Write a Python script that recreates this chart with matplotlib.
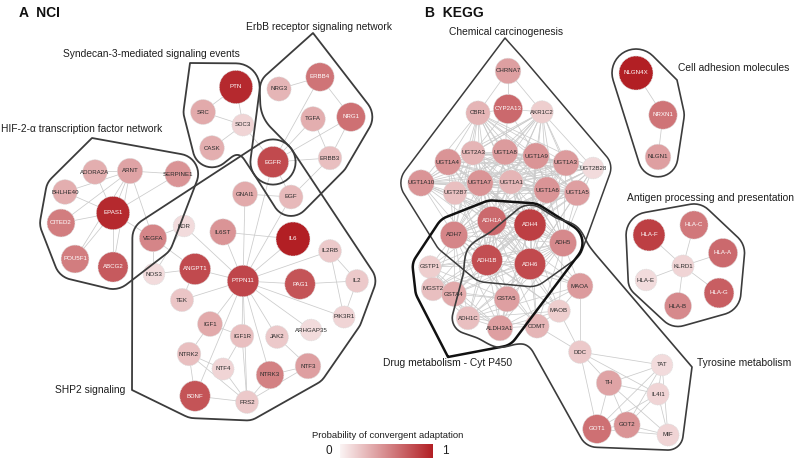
import numpy as np
import matplotlib
matplotlib.use("Agg")
import matplotlib.pyplot as plt
from matplotlib.patches import Circle
from matplotlib.colors import LinearSegmentedColormap

plt.rcParams['font.family'] = ['Liberation Sans', 'DejaVu Sans']

# ---------------- data ----------------
genes = ["PTN", "SRC", "SDC3", "CASK", "NRG3", "ERBB4", "TGFA", "NRG1", "ERBB3", "EGFR", "EGF", "GNAI1",
         "ADORA2A", "ARNT", "SERPINE1", "BHLHE40", "EPAS1", "CITED2", "POU5F1", "ABCG2", "VEGFA",
         "KDR", "NOS3", "IL6ST", "IL6", "IL2RB", "ANGPT1", "PTPN11", "PAG1", "IL2", "TEK", "PIK3R1",
         "IGF1", "IGF1R", "JAK2", "ARHGAP35", "NTRK2", "NTF4", "NTRK3", "NTF3", "BDNF", "FRS2",
         "CHRNA7", "CBR1", "CYP2A13", "AKR1C2", "UGT1A4", "UGT2A3", "UGT1A8", "UGT1A9", "UGT1A3",
         "UGT2B28", "UGT1A10", "UGT2B7", "UGT1A7", "UGT1A1", "UGT1A6", "UGT1A5", "ADH1A", "ADH4",
         "ADH7", "ADH5", "ADH1B", "ADH6", "GSTP1", "MGST2", "GSTA4", "MAOA", "GSTA5", "MAOB", "ADH1C",
         "ALDH3A1", "COMT", "DDC", "TAT", "TH", "IL4I1", "GOT1", "GOT2", "MIF",
         "NLGN4X", "NRXN1", "NLGN1", "HLA-F", "HLA-C", "HLA-A", "KLRD1", "HLA-E", "HLA-G", "HLA-B"]

# probability of convergent adaptation (colour of each node)
prob = [0.95, 0.35, 0.15, 0.33, 0.30, 0.60, 0.33, 0.62, 0.25, 0.80, 0.28, 0.35,
        0.33, 0.38, 0.45, 0.33, 0.95, 0.56, 0.56, 0.72, 0.52,
        0.12, 0.12, 0.45, 1.00, 0.20, 0.80, 0.82, 0.75, 0.20, 0.22, 0.15,
        0.35, 0.25, 0.20, 0.12, 0.25, 0.15, 0.54, 0.40, 0.75, 0.20,
        0.40, 0.30, 0.65, 0.18, 0.45, 0.30, 0.42, 0.45, 0.42,
        0.12, 0.45, 0.25, 0.45, 0.30, 0.45, 0.40, 0.65, 0.85,
        0.52, 0.50, 0.78, 0.80, 0.18, 0.25, 0.35, 0.42, 0.40, 0.18, 0.25,
        0.40, 0.30, 0.20, 0.12, 0.38, 0.15, 0.62, 0.45, 0.15,
        1.00, 0.60, 0.40, 0.85, 0.58, 0.65, 0.15, 0.12, 0.70, 0.50]

# network layout (pixel coordinates of the drawing)
layout_x = [236, 203, 243, 212, 279, 320, 313, 351, 330, 273, 291, 245,
            95, 130, 178, 65, 113, 61, 75, 113, 153,
            184, 154, 223, 293, 330, 195, 243, 300, 357, 182, 344,
            210, 242, 277, 311, 189, 223, 270, 308, 195, 247,
            508, 478, 508, 542, 448, 473, 505, 536, 566,
            593, 421, 455, 480, 511, 547, 577, 492, 530,
            454, 563, 487, 530, 430, 433, 454, 580, 507, 559, 468,
            500, 537, 580, 662, 609, 658, 597, 627, 668,
            636, 663, 658, 649, 694, 723, 683, 646, 719, 678]
layout_y = [87, 112, 125, 148, 89, 77, 119, 117, 158, 162, 197, 194,
            172, 171, 174, 192, 213, 223, 259, 267, 238,
            226, 274, 232, 239, 251, 269, 281, 284, 281, 300, 317,
            324, 336, 337, 330, 354, 369, 375, 366, 396, 402,
            71, 113, 109, 112, 162, 153, 152, 156, 163,
            168, 183, 193, 183, 182, 190, 193, 221, 225,
            235, 243, 260, 264, 267, 289, 294, 286, 299, 311, 318,
            328, 326, 352, 365, 383, 394, 429, 425, 435,
            73, 115, 157, 235, 225, 253, 266, 280, 293, 306]

edges = [("PTN", "SRC"), ("PTN", "SDC3"), ("SRC", "SDC3"), ("SDC3", "CASK"), ("SDC3", "EGFR"),
         ("NRG3", "ERBB4"), ("ERBB4", "NRG1"), ("ERBB4", "EGFR"), ("TGFA", "EGFR"), ("TGFA", "ERBB3"),
         ("NRG1", "ERBB3"), ("NRG1", "EGFR"), ("ERBB3", "EGFR"), ("EGFR", "EGF"), ("EGF", "ERBB3"),
         ("GNAI1", "EGF"), ("GNAI1", "PTPN11"), ("EGFR", "PTPN11"), ("EGF", "PTPN11"),
         ("ADORA2A", "ARNT"), ("ARNT", "SERPINE1"), ("ARNT", "EPAS1"), ("ADORA2A", "EPAS1"),
         ("BHLHE40", "EPAS1"), ("BHLHE40", "ARNT"), ("SERPINE1", "EPAS1"), ("EPAS1", "CITED2"),
         ("EPAS1", "POU5F1"), ("EPAS1", "ABCG2"), ("EPAS1", "VEGFA"), ("ARNT", "VEGFA"),
         ("ARNT", "ABCG2"), ("ARNT", "POU5F1"), ("ARNT", "CITED2"),
         ("VEGFA", "KDR"), ("VEGFA", "NOS3"), ("KDR", "NOS3"), ("VEGFA", "ANGPT1"), ("NOS3", "ANGPT1"),
         ("PTPN11", "KDR"), ("PTPN11", "IL6ST"), ("PTPN11", "IL6"), ("PTPN11", "IL2RB"), ("PTPN11", "PAG1"),
         ("PTPN11", "PIK3R1"), ("PTPN11", "ARHGAP35"), ("PTPN11", "JAK2"), ("PTPN11", "NTRK3"),
         ("PTPN11", "FRS2"), ("PTPN11", "IGF1R"), ("PTPN11", "IGF1"), ("PTPN11", "TEK"),
         ("PTPN11", "ANGPT1"), ("PTPN11", "BDNF"),
         ("IL6ST", "IL6"), ("IL2RB", "IL2"), ("IL2RB", "PIK3R1"), ("IL2", "PIK3R1"), ("PAG1", "IL2"),
         ("ANGPT1", "TEK"), ("IGF1", "IGF1R"), ("IGF1", "NTRK2"), ("NTRK2", "NTF4"), ("NTRK2", "BDNF"),
         ("NTRK2", "FRS2"), ("NTF4", "FRS2"), ("NTF4", "IGF1R"), ("IGF1R", "FRS2"), ("BDNF", "FRS2"),
         ("NTRK3", "FRS2"), ("NTRK3", "NTF3"), ("NTF3", "FRS2"), ("JAK2", "NTF3"),
         ("CHRNA7", "CYP2A13"), ("CHRNA7", "CBR1"), ("CHRNA7", "AKR1C2"), ("CYP2A13", "CBR1"),
         ("CYP2A13", "AKR1C2"), ("CYP2A13", "UGT1A8"), ("CYP2A13", "UGT2A3"), ("CYP2A13", "UGT1A9"),
         ("MAOA", "DDC"), ("MAOB", "DDC"), ("COMT", "DDC"), ("COMT", "MAOB"), ("MAOA", "MAOB"),
         ("DDC", "TAT"), ("DDC", "TH"), ("DDC", "IL4I1"), ("DDC", "GOT1"), ("TH", "TAT"), ("TH", "IL4I1"),
         ("TH", "GOT1"), ("TH", "GOT2"), ("TH", "MIF"), ("TAT", "IL4I1"), ("TAT", "GOT1"), ("TAT", "GOT2"),
         ("TAT", "MIF"), ("IL4I1", "GOT1"), ("IL4I1", "GOT2"), ("IL4I1", "MIF"), ("GOT1", "GOT2"),
         ("GOT2", "MIF"), ("GOT1", "MIF"),
         ("NLGN4X", "NRXN1"), ("NRXN1", "NLGN1"),
         ("KLRD1", "HLA-F"), ("KLRD1", "HLA-C"), ("KLRD1", "HLA-A"), ("KLRD1", "HLA-E"),
         ("KLRD1", "HLA-G"), ("KLRD1", "HLA-B")]

# fully connected blocks of the KEGG metabolism interactions (list A x list B)
ugt_family = ["UGT1A4", "UGT2A3", "UGT1A8", "UGT1A9", "UGT1A3", "UGT2B28", "UGT1A10", "UGT2B7",
              "UGT1A7", "UGT1A1", "UGT1A6", "UGT1A5"]
adh_family = ["ADH1A", "ADH4", "ADH7", "ADH5", "ADH1B", "ADH6", "ADH1C", "ALDH3A1"]
gst_family = ["GSTP1", "MGST2", "GSTA4", "GSTA5"]
amine_enzymes = ["MAOA", "MAOB", "COMT"]
carbonyl_reductases = ["CBR1", "AKR1C2"]
edge_blocks = [(ugt_family, ugt_family), (adh_family, adh_family), (gst_family, gst_family),
               (ugt_family, adh_family[:6]), (gst_family, adh_family), (amine_enzymes, adh_family),
               (carbonyl_reductases, ugt_family), (carbonyl_reductases, adh_family[:4])]

# pathway groups: member parts, pointer tip
groups = [
    ("Syndecan-3-mediated signaling events", [["PTN", "SRC", "SDC3", "CASK"], ["SDC3", "EGFR"]], (190, 63)),
    ("ErbB receptor signaling network", [["NRG3", "ERBB4", "TGFA", "NRG1", "ERBB3", "EGFR", "EGF"]], (313, 33)),
    ("HIF-2-\u03b1 transcription factor network",
     [["ADORA2A", "ARNT", "SERPINE1", "BHLHE40", "EPAS1", "CITED2", "POU5F1", "ABCG2", "VEGFA"]], (92, 138)),
    ("SHP2 signaling", [["VEGFA", "KDR", "NOS3", "IL6ST", "IL6", "IL2RB", "ANGPT1", "PTPN11", "PAG1", "IL2",
                         "TEK", "PIK3R1", "IGF1", "IGF1R", "JAK2", "ARHGAP35", "NTRK2", "NTF4", "NTRK3",
                         "NTF3", "BDNF", "FRS2", "GNAI1", "EGFR", "EGF"]], (132, 390)),
    ("Chemical carcinogenesis", [["CHRNA7", "CBR1", "CYP2A13", "AKR1C2"] + ugt_family +
                                 ["ADH1A", "ADH4", "ADH7", "ADH5", "ADH1B", "ADH6"]], (505, 38)),
    ("Cell adhesion molecules", [["NLGN4X", "NRXN1", "NLGN1"]], (677, 80)),
    ("Antigen processing and presentation",
     [["HLA-F", "HLA-C", "HLA-A", "KLRD1", "HLA-E", "HLA-G", "HLA-B"]], (698, 206)),
    ("Drug metabolism - Cyt P450", [["ADH7", "ADH1A", "ADH4", "ADH5", "ADH1B", "ADH6", "GSTP1", "MGST2",
                                     "GSTA4", "GSTA5", "ADH1C", "ALDH3A1"]], (448, 357)),
    ("Tyrosine metabolism", [["ADH5", "MAOA", "DDC", "TAT", "TH", "IL4I1", "GOT1", "GOT2", "MIF",
                              "MAOB", "COMT"],
                             ["ADH4", "ADH5", "ADH6", "ADH1B"], ["ADH1B", "GSTA5", "ADH1C", "ALDH3A1"],
                             ["ADH6", "ADH5", "MAOA", "MAOB", "COMT", "ALDH3A1", "GSTA5"]], (692, 367)),
]
group_label_pos = [(63, 54), (246, 27), (1, 129), (55, 390), (449, 32), (678, 68), (627, 198),
                   (383, 363), (697, 363)]
group_pad = [7, 7, 7, 7, 7, 7, 7, 6, 4]
group_lw = [1.3, 1.3, 1.3, 1.3, 1.1, 1.2, 1.2, 1.8, 1.2]
group_col = ["#3c3c3c"] * 7 + ["#111111", "#3c3c3c"]

# ---------------- drawing ----------------
W, H = 796, 459
fig = plt.figure(figsize=(W / 100, H / 100), dpi=100)
ax = fig.add_axes([0, 0, 1, 1])
ax.set_xlim(0, W)
ax.set_ylim(H, 0)
ax.axis("off")

cmap = LinearSegmentedColormap.from_list("conv", ["#fbf4f4", "#b21f24"])
pos = {g: (x, y) for g, x, y in zip(genes, layout_x, layout_y)}
val = dict(zip(genes, prob))
rad = {g: 10 + 7 * v for g, v in val.items()}

all_edges = list(edges)
for A, B in edge_blocks:
    for a in A:
        for b in B:
            if a != b and (b, a) not in all_edges and (a, b) not in all_edges:
                all_edges.append((a, b))
for a, b in all_edges:
    (x0, y0), (x1, y1) = pos[a], pos[b]
    ax.plot([x0, x1], [y0, y1], color="#cbcbcb", lw=0.55, zorder=1, solid_capstyle="round")

for g in genes:
    x, y = pos[g]
    v = val[g]
    ax.add_patch(Circle((x, y), rad[g], facecolor=cmap(v), edgecolor="#dcdcdc", lw=0.5,
                        linestyle=(0, (1.5, 1)), zorder=3))
    ax.text(x, y, g, ha="center", va="center", fontsize=4.4,
            color="white" if v >= 0.55 else "#2a2a2a", zorder=5)


# ---- group outlines from padded convex hulls of members ----
def convex_hull(pts):
    pts = sorted(set(pts))
    if len(pts) < 3:
        return pts

    def cross(o, a, b):
        return (a[0] - o[0]) * (b[1] - o[1]) - (a[1] - o[1]) * (b[0] - o[0])
    lower, upper = [], []
    for p in pts:
        while len(lower) >= 2 and cross(lower[-2], lower[-1], p) <= 0:
            lower.pop()
        lower.append(p)
    for p in reversed(pts):
        while len(upper) >= 2 and cross(upper[-2], upper[-1], p) <= 0:
            upper.pop()
        upper.append(p)
    return lower[:-1] + upper[:-1]


gx = np.arange(0, W, 1.0)
gy = np.arange(0, H, 1.0)
GX, GY = np.meshgrid(gx, gy)


def sdf_poly(poly):
    F = np.full(GX.shape, 1e3)
    px = np.array([p[0] for p in poly])
    py = np.array([p[1] for p in poly])
    x0, x1 = int(max(px.min() - 40, 0)), int(min(px.max() + 40, W))
    y0, y1 = int(max(py.min() - 40, 0)), int(min(py.max() + 40, H))
    X = GX[y0:y1, x0:x1]
    Y = GY[y0:y1, x0:x1]
    inside = np.ones(X.shape, bool)
    dmin = np.full(X.shape, np.inf)
    n = len(poly)
    for i in range(n):
        ax_, ay_ = poly[i]
        bx, by = poly[(i + 1) % n]
        ex, ey = bx - ax_, by - ay_
        wx, wy = X - ax_, Y - ay_
        t = np.clip((wx * ex + wy * ey) / (ex * ex + ey * ey), 0, 1)
        dx, dy = wx - t * ex, wy - t * ey
        dmin = np.minimum(dmin, dx * dx + dy * dy)
        inside &= (ex * wy - ey * wx) >= 0
    d = np.sqrt(dmin)
    F[y0:y1, x0:x1] = np.where(inside, -d, d)
    return F


def smin(a, b, k):
    h = np.clip(0.5 + 0.5 * (b - a) / k, 0, 1)
    return b * (1 - h) + a * h - k * h * (1 - h)


ang = np.linspace(0, 2 * np.pi, 40, endpoint=False)
for (name, parts, tip), (lx, ly), pad, lw, col in zip(groups, group_label_pos, group_pad, group_lw, group_col):
    F = None
    for pi, part in enumerate(parts):
        pts = []
        for g in part:
            x, y = pos[g]
            r = rad[g] + pad
            pts += [(x + r * np.cos(a), y + r * np.sin(a)) for a in ang]
        if pi == 0:
            pts.append(tip)
        Fp = sdf_poly(convex_hull(pts))
        F = Fp if F is None else smin(F, Fp, 10)
    ax.contour(gx, gy, F, levels=[0], colors=[col], linewidths=lw, zorder=4)
    ax.text(lx, ly, name, ha="left", va="center", fontsize=7.4, color="#1e1e1e", zorder=6)

# panel titles
ax.text(19, 13, "A  NCI", fontsize=10, fontweight="bold", ha="left", va="center", color="#111111")
ax.text(425, 13, "B  KEGG", fontsize=10, fontweight="bold", ha="left", va="center", color="#111111")

# colour legend
ax.text(312, 435, "Probability of convergent adaptation", fontsize=6.8, ha="left", va="center",
        color="#1e1e1e")
ax.imshow(np.linspace(0, 1, 256)[None, :], extent=(340, 433, 458, 444), cmap=cmap, aspect="auto",
          zorder=2)
ax.text(329, 451, "0", fontsize=8.5, ha="center", va="center", color="#1e1e1e")
ax.text(445, 451, "1", fontsize=8.5, ha="center", va="center", color="#1e1e1e")
ax.set_xlim(0, W)
ax.set_ylim(H, 0)

fig.savefig("out.png", dpi=100)
